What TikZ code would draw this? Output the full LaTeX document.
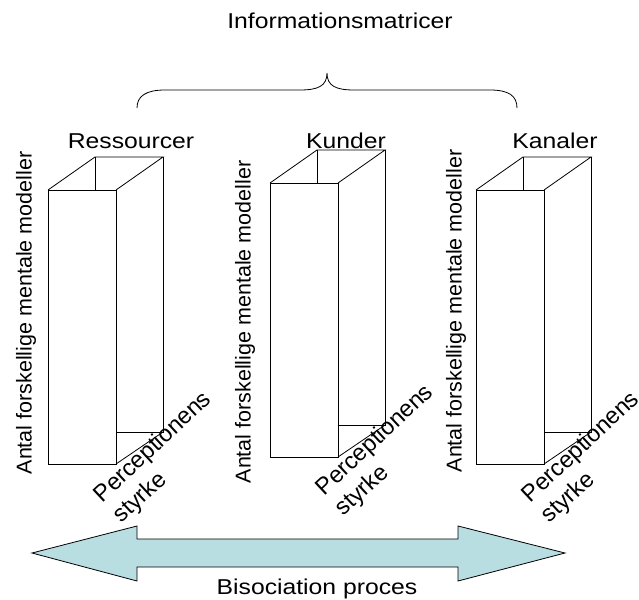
\documentclass[tikz,border=0pt]{standalone}
\usepackage{fontspec}
\setmainfont{Liberation Sans}
\newfontfamily\widefont{Liberation Sans}[FakeStretch=1.15]
\definecolor{arrowfill}{RGB}{184,222,226}
\begin{document}
\begin{tikzpicture}[x=1pt,y=-1pt,line width=0.8pt,
  lbl/.style={font=\widefont\fontsize{21.5}{26}\selectfont,inner sep=0pt},
  vlbl/.style={font=\fontsize{21.5}{26}\selectfont,rotate=90,inner sep=0pt},
  plbl/.style={font=\fontsize{23.5}{28}\selectfont,rotate=43,align=left,inner sep=0pt},
  boxline/.style={draw=black,line width=0.8pt}]
\useasboundingbox (0,0) rectangle (639,599);
% title and brace
\node[lbl,anchor=base] (title) at (340,29) {Informationsmatricer};
\draw[line width=0.8pt] (137,108) .. controls (137,96) and (146,90) .. (165,90) -- (300,90)
  .. controls (318,90) and (327,86) .. (327,73)
  .. controls (327,86) and (336,90) .. (354,90) -- (490,90)
  .. controls (509,90) and (517,96) .. (517,108);
% boxes
\foreach \X/\Y in {48/190,270/183,476/190}{
  \draw[boxline] (\X,\Y) rectangle (\X+68,\Y+274);
  \draw[boxline] (\X,\Y) -- (\X+47,\Y-33) -- (\X+115,\Y-33) -- (\X+68,\Y);
  \draw[boxline] (\X+47,\Y-33) -- (\X+47,\Y);
  \draw[boxline] (\X+115,\Y-33) -- (\X+115,\Y+242) -- (\X+68,\Y+242);
  \draw[boxline] (\X+115,\Y+242) -- (\X+68,\Y+274);
}
% top labels
\node[lbl,anchor=base] (res) at (131,148) {Ressourcer};
\node[lbl,anchor=base] (kun) at (346,148) {Kunder};
\node[lbl,anchor=base] (kan) at (555,148) {Kanaler};
% vertical labels
\node[vlbl] (v1) at (26,313) {Antal forskellige mentale modeller};
\node[vlbl] (v2) at (245,322) {Antal forskellige mentale modeller};
\node[vlbl] (v3) at (456,311) {Antal forskellige mentale modeller};
% rotated labels
\node[plbl] (p1) at (163,458) {Perceptionens\\styrke};
\node[plbl] (p2) at (385,451) {Perceptionens\\styrke};
\node[plbl] (p3) at (591,458) {Perceptionens\\styrke};
% arrow
\draw[fill=arrowfill,line width=0.8pt] (32,553) -- (137,526) -- (137,539) -- (458,539) -- (458,526)
  -- (565,553) -- (458,581) -- (458,567) -- (137,567) -- (137,581) -- cycle;
\node[lbl,anchor=base] (bis) at (317,594) {Bisociation proces};
\end{tikzpicture}
\end{document}
